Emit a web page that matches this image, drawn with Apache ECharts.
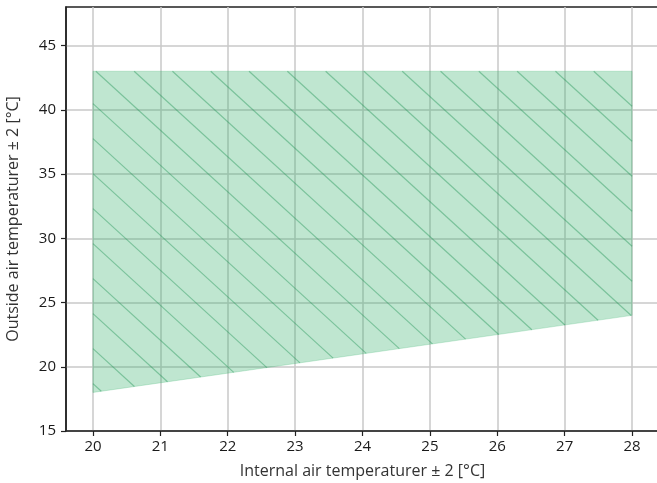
<!DOCTYPE html>
<html>
<head>
<meta charset="utf-8">
<script src="https://cdn.jsdelivr.net/npm/echarts@6/dist/echarts.min.js"></script>
<style>
html,body{margin:0;padding:0;background:#fff;}
#chart{width:657px;height:483px;}
</style>
</head>
<body>
<div id="chart"></div>
<script>
// Operating envelope polygon (internal temp, outside temp)
const envelopeX = [20, 28, 28, 20];
const envelopeY = [18, 24, 43, 43];
const xTicks = [20, 21, 22, 23, 24, 25, 26, 27, 28];
const yTicks = [15, 20, 25, 30, 35, 40, 45];
const xTitle = 'Internal air temperaturer ± 2 [°C]';
const yTitle = 'Outside air temperaturer ± 2 [°C]';

const vertices = envelopeX.map((x, i) => [x, envelopeY[i]]);

// hatch settings (pixel space)
const HATCH_SLOPE = 0.914;   // dy/dx in pixels, down-right
const HATCH_H = 38.3;        // horizontal spacing
const HATCH_C0 = 17.9;       // phase

function hatchSegments(pts) {
  const f = p => p[0] - p[1] / HATCH_SLOPE;
  const fs = pts.map(f);
  const fmin = Math.min(...fs), fmax = Math.max(...fs);
  const kStart = Math.ceil((fmin - HATCH_C0) / HATCH_H);
  const kEnd = Math.floor((fmax - HATCH_C0) / HATCH_H);
  const segs = [];
  for (let k = kStart; k <= kEnd; k++) {
    const v = HATCH_C0 + k * HATCH_H;
    const hits = [];
    for (let i = 0; i < pts.length; i++) {
      const a = pts[i], b = pts[(i + 1) % pts.length];
      const fa = fs[i], fb = fs[(i + 1) % pts.length];
      if (fa === fb) continue;
      if ((fa - v) * (fb - v) <= 0) {
        const t = (v - fa) / (fb - fa);
        hits.push([a[0] + t * (b[0] - a[0]), a[1] + t * (b[1] - a[1])]);
      }
    }
    if (hits.length >= 2) {
      hits.sort((p, q) => p[0] - q[0]);
      const p1 = hits[0], p2 = hits[hits.length - 1];
      if (Math.hypot(p2[0] - p1[0], p2[1] - p1[1]) > 0.5) segs.push([p1, p2]);
    }
  }
  return segs;
}

const chart = echarts.init(document.getElementById('chart'), null, {renderer: 'canvas'});
const labelFont = {fontFamily: 'Open Sans', fontSize: 15, color: '#1a1a1a'};
chart.setOption({
  animation: false,
  backgroundColor: '#fff',
  grid: {
    left: 66, top: 7, right: -2, bottom: 52,
    outerBoundsMode: 'none', containLabel: false,
    show: true, borderColor: '#222', borderWidth: 1.5, backgroundColor: 'transparent'
  },
  xAxis: {
    type: 'value', min: 19.6, max: 28.4,
    name: xTitle, nameLocation: 'middle', nameGap: 32,
    nameTextStyle: {fontFamily: 'Open Sans', fontSize: 16, color: '#333'},
    axisLine: {show: true, onZero: false, lineStyle: {color: '#222', width: 1.5}},
    axisTick: {show: true, length: 5, customValues: xTicks, lineStyle: {color: '#222', width: 1.2}},
    axisLabel: Object.assign({customValues: xTicks, margin: 8}, labelFont),
    splitLine: {show: true, lineStyle: {color: '#c8c8c8', width: 1.5}}
  },
  yAxis: {
    type: 'value', min: 15, max: 48,
    name: yTitle, nameLocation: 'middle', nameGap: 45,
    nameTextStyle: {fontFamily: 'Open Sans', fontSize: 16, color: '#333'},
    axisLine: {show: true, onZero: false, lineStyle: {color: '#222', width: 1.5}},
    axisTick: {show: true, length: 5, customValues: yTicks, lineStyle: {color: '#222', width: 1.2}},
    axisLabel: Object.assign({customValues: yTicks, margin: 10}, labelFont),
    splitLine: {show: true, lineStyle: {color: '#c8c8c8', width: 1.5}}
  },
  series: [{
    type: 'custom',
    clip: true,
    data: vertices,
    encode: {x: 0, y: 1},
    renderItem: function (params, api) {
      if (params.dataIndex !== 0) return null;
      const pts = vertices.map(v => api.coord(v));
      const children = [{
        type: 'polygon',
        shape: {points: pts},
        style: {fill: 'rgba(60,179,113,0.33)', stroke: 'rgba(60,179,113,0.25)', lineWidth: 1}
      }];
      hatchSegments(pts).forEach(s => {
        children.push({
          type: 'line',
          shape: {x1: s[0][0], y1: s[0][1], x2: s[1][0], y2: s[1][1]},
          style: {stroke: 'rgba(40,150,90,0.45)', lineWidth: 1.2}
        });
      });
      return {type: 'group', children: children};
    }
  }]
});
</script>
</body>
</html>
